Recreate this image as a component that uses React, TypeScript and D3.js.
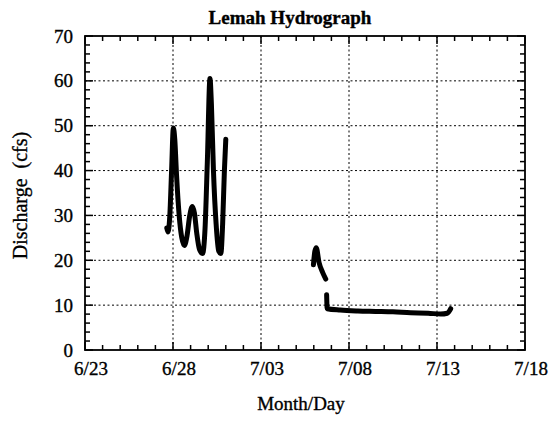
import * as d3 from 'd3';

const parse = d3.timeParse('%m/%d %H:%M');

// three recorded stretches of the hydrograph (gaps = missing data)
const seg1Times = [
  '6/27 15:30', '6/27 17:15', '6/27 19:40', '6/27 22:05', '6/28 00:30', '6/28 02:25',
  '6/28 04:50', '6/28 08:25', '6/28 12:00', '6/28 15:35', '6/28 19:10', '6/28 22:50',
  '6/29 02:25', '6/29 05:15', '6/29 08:25', '6/29 12:00', '6/29 16:20', '6/29 19:40',
  '6/29 22:50', '6/30 02:25', '6/30 04:20', '6/30 07:10', '6/30 10:50', '6/30 14:25',
  '6/30 17:15', '6/30 19:40', '6/30 22:05', '7/01 00:00',
];
const seg1Flow = [
  27.2, 26.3, 30, 40, 49.5, 47,
  39, 30, 25, 23.3, 25.5, 30,
  32, 30.5, 26, 22.5, 21.5, 27,
  42, 60.5, 55, 40, 28, 22,
  21.5, 28, 40, 47,
];

const seg2Times = ['7/05 23:30', '7/06 01:25', '7/06 03:20', '7/06 07:10', '7/06 12:00', '7/06 16:20'];
const seg2Flow = [19, 22, 22.8, 19.5, 17.3, 15.8];

const seg3Times = [
  '7/06 17:30', '7/06 18:15', '7/07 12:00', '7/08 12:00', '7/09 12:00', '7/10 12:00',
  '7/11 12:00', '7/12 12:00', '7/13 05:00', '7/13 14:00', '7/13 18:40',
];
const seg3Flow = [12.3, 9.2, 8.9, 8.7, 8.6, 8.5, 8.3, 8.2, 8.0, 8.2, 9.2];

const xTickLabels = ['6/23', '6/28', '7/03', '7/08', '7/13', '7/18'];
const yTicks = [0, 10, 20, 30, 40, 50, 60, 70];

const W = 550;
const H = 421;
const margin = { top: 36, right: 25, bottom: 71, left: 85 };
const font = '"Liberation Serif", "Times New Roman", serif';

export default function App() {
  const innerW = W - margin.left - margin.right;
  const innerH = H - margin.top - margin.bottom;

  const x = d3
    .scaleTime()
    .domain([parse('6/23 00:00')!, parse('7/18 00:00')!])
    .range([0, innerW]);
  const y = d3.scaleLinear().domain([0, 70]).range([innerH, 0]);

  const segments = [
    [seg1Times, seg1Flow],
    [seg2Times, seg2Flow],
    [seg3Times, seg3Flow],
  ].map(([t, v]) => (t as string[]).map((s, i) => ({ date: parse(s)!, q: (v as number[])[i] })));

  const line = d3
    .line<{ date: Date; q: number }>()
    .x((d) => x(d.date))
    .y((d) => y(d.q))
    .curve(d3.curveMonotoneX);

  const majorX = xTickLabels.map((l) => parse(l + ' 00:00')!);
  const minorX = d3.timeDay.range(x.domain()[0], x.domain()[1]).filter((d, i) => i % 5 !== 0);
  const minorY = d3.range(2, 70, 2).filter((v) => v % 10 !== 0);

  const grid = '#000';
  // scanned print looks a little heavier than the plain font
  const ink = { fill: '#000', stroke: '#000', strokeWidth: 0.35 };

  return (
    <svg
      width={W}
      height={H}
      style={{ position: 'absolute', left: 0, top: 0, background: '#fff' }}
      fontFamily={font}
    >
      <text x={290} y={24} textAnchor="middle" fontSize={19} fontWeight="bold" {...ink}>
        Lemah Hydrograph
      </text>
      <g transform={`translate(${margin.left},${margin.top})`}>
        {/* dotted grid */}
        {yTicks.slice(1, -1).map((v) => (
          <line key={'gy' + v} x1={0} x2={innerW} y1={y(v)} y2={y(v)} stroke={grid} strokeWidth={1} strokeDasharray="2,2.5" />
        ))}
        {majorX.slice(1, -1).map((d, i) => (
          <line key={'gx' + i} x1={x(d)} x2={x(d)} y1={0} y2={innerH} stroke={grid} strokeWidth={1} strokeDasharray="2,2.5" />
        ))}

        {/* ticks, pointing inward on all four sides */}
        {majorX.map((d, i) => (
          <g key={'mx' + i}>
            <line x1={x(d)} x2={x(d)} y1={innerH} y2={innerH - 8} stroke="#000" strokeWidth={1.5} />
            <line x1={x(d)} x2={x(d)} y1={0} y2={8} stroke="#000" strokeWidth={1.5} />
          </g>
        ))}
        {minorX.map((d, i) => (
          <g key={'nx' + i}>
            <line x1={x(d)} x2={x(d)} y1={innerH} y2={innerH - 5} stroke="#000" strokeWidth={1.5} />
            <line x1={x(d)} x2={x(d)} y1={0} y2={5} stroke="#000" strokeWidth={1.5} />
          </g>
        ))}
        {yTicks.map((v) => (
          <g key={'my' + v}>
            <line x1={0} x2={8} y1={y(v)} y2={y(v)} stroke="#000" strokeWidth={1.5} />
            <line x1={innerW} x2={innerW - 8} y1={y(v)} y2={y(v)} stroke="#000" strokeWidth={1.5} />
          </g>
        ))}
        {minorY.map((v) => (
          <g key={'ny' + v}>
            <line x1={0} x2={5} y1={y(v)} y2={y(v)} stroke="#000" strokeWidth={1.5} />
            <line x1={innerW} x2={innerW - 5} y1={y(v)} y2={y(v)} stroke="#000" strokeWidth={1.5} />
          </g>
        ))}

        {/* frame */}
        <rect x={0} y={0} width={innerW} height={innerH} fill="none" stroke="#000" strokeWidth={1.8} />

        {/* discharge trace */}
        {segments.map((seg, i) => (
          <path
            key={'s' + i}
            d={line(seg) || ''}
            fill="none"
            stroke="#000"
            strokeWidth={5}
            strokeLinejoin="round"
            strokeLinecap="round"
          />
        ))}

        {/* tick labels */}
        {yTicks.map((v) => (
          <text key={'ly' + v} x={-12} y={y(v) + 6.5} textAnchor="end" fontSize={19} {...ink}>
            {v}
          </text>
        ))}
        {majorX.map((d, i) => (
          <text key={'lx' + i} x={x(d) + 6} y={innerH + 25} textAnchor="middle" fontSize={19} {...ink}>
            {xTickLabels[i]}
          </text>
        ))}
      </g>

      <text x={301} y={410} textAnchor="middle" fontSize={19} {...ink}>
        Month/Day
      </text>
      <text transform="translate(27,195.5) rotate(-90)" textAnchor="middle" fontSize={20} {...ink}>
        {'Discharge\u00a0 (cfs)'}
      </text>
    </svg>
  );
}
